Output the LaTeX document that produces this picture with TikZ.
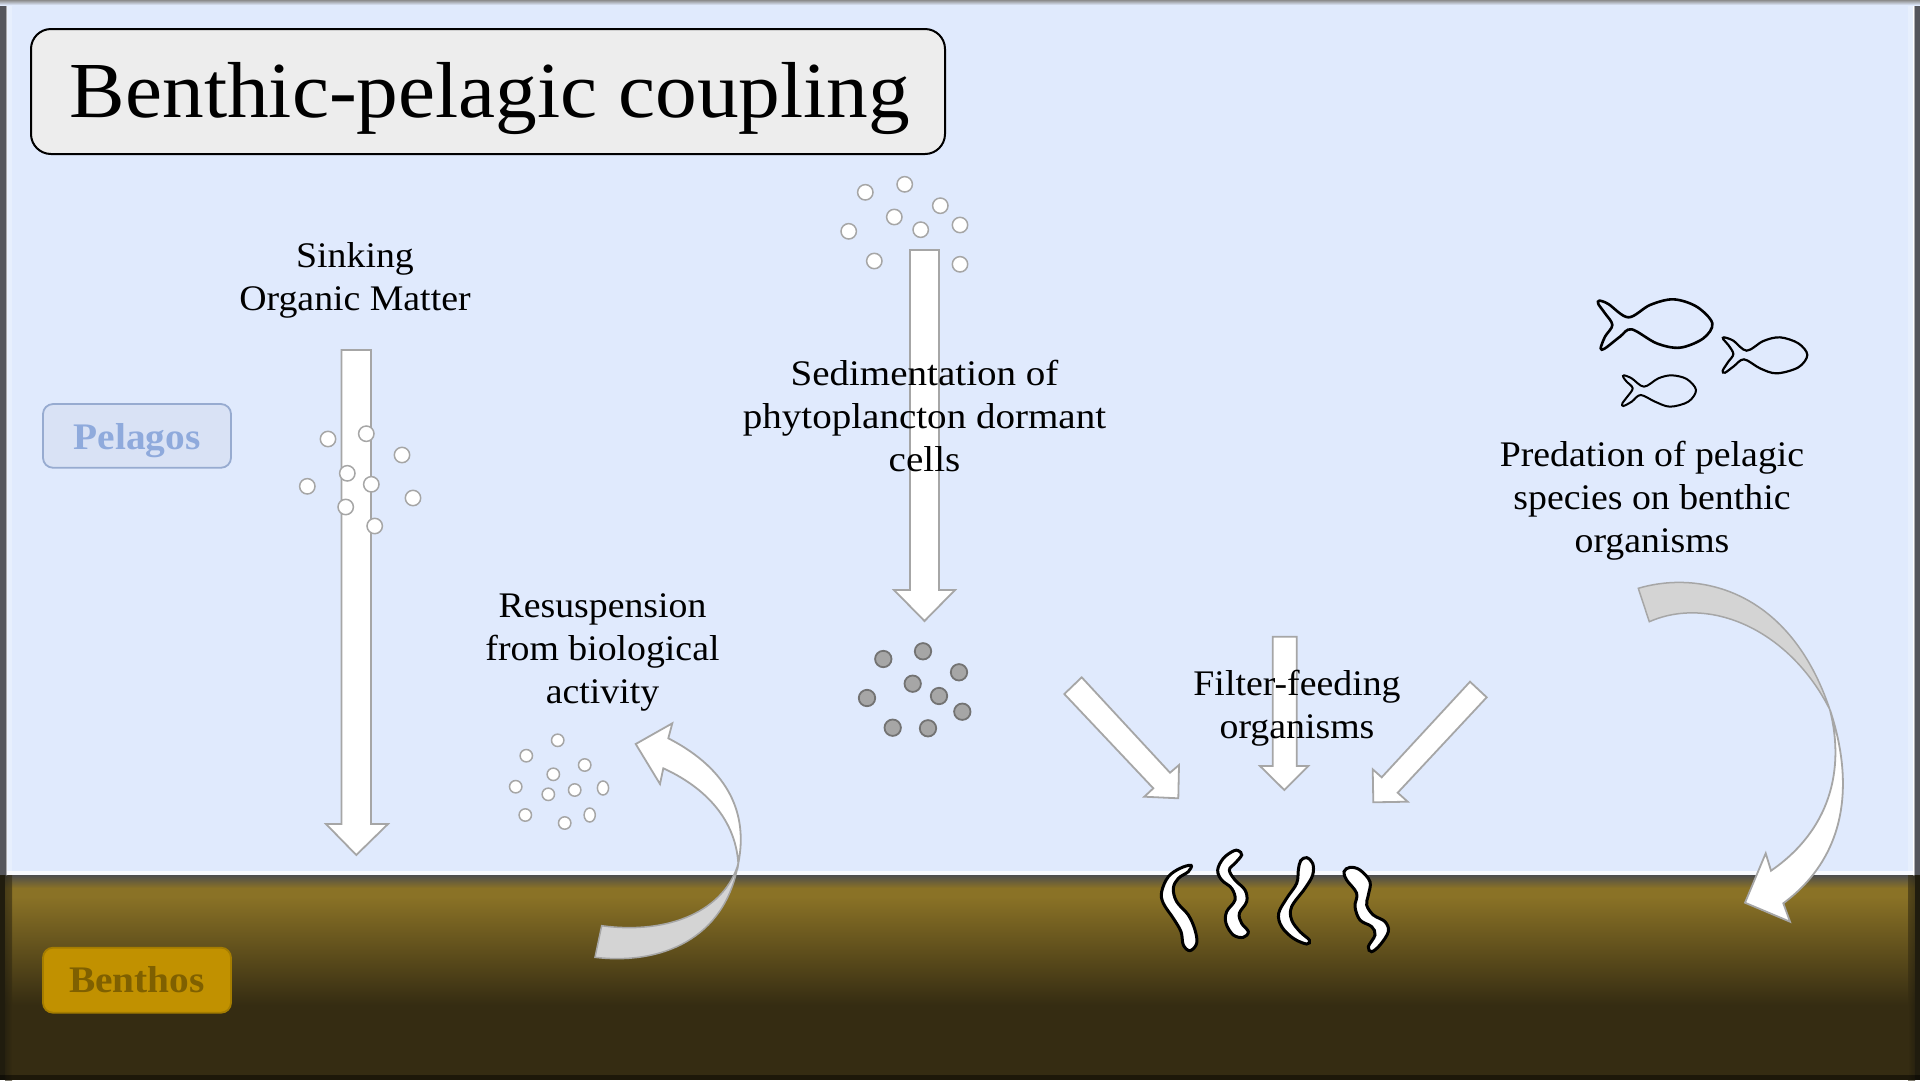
\documentclass[tikz,border=0pt]{standalone}
\usepackage{fontspec}
\setmainfont[FakeStretch=1.05]{Liberation Serif}
\newfontfamily\widefont[FakeStretch=1.085]{Liberation Serif}
\definecolor{sky}{HTML}{E0EAFD}
\definecolor{olive}{HTML}{8A7226}
\definecolor{mud}{HTML}{352C12}
\definecolor{edgegray}{HTML}{A6A6A6}
\definecolor{edgesky}{HTML}{55565C}
\definecolor{edgemud}{HTML}{201C0E}
\definecolor{pelfill}{HTML}{D9E2F5}
\definecolor{peldraw}{HTML}{97ABD0}
\definecolor{peltext}{HTML}{8FAADC}
\definecolor{benfill}{HTML}{C19100}
\definecolor{bendraw}{HTML}{A57D00}
\definecolor{bentext}{HTML}{7F6000}
\tikzset{
  label36/.style={align=center,text=black,font=\fontsize{36}{43}\selectfont,inner sep=0pt},
  zonebox/.style={line width=1.8pt,rounded corners=10pt,minimum width=188pt,inner sep=0pt,font=\fontsize{37.5}{43}\selectfont\bfseries},
  block/.style={draw=edgegray,fill=white,line width=1.8pt,line join=miter},
  curvedgray/.style={draw=edgegray,fill=black!17,line width=1.5pt,line join=miter},
  whitedot/.style={draw=edgegray,fill=white,line width=1.5pt},
  graydot/.style={draw=black!55,fill=black!35,line width=1.8pt},
  worm/.style={draw=black,fill=white,line width=3pt},
  fish/.style={draw=black,line width=2.6pt}
}
\begin{document}
\begin{tikzpicture}[x=1pt,y=-1pt]
\useasboundingbox (0,0) rectangle (1920,1080);
% background
\fill[sky] (0,0) rectangle (1920,876);
\fill[white,opacity=.75] (0,871) rectangle (1920,875);
\shade[top color=black!70,bottom color=olive] (0,875) rectangle (1920,888);
\fill[olive] (0,887.5) rectangle (1920,897);
\shade[top color=olive,bottom color=mud] (0,896.5) rectangle (1920,1005);
\fill[mud] (0,1004.5) rectangle (1920,1080);
% soft edges
\fill[edgesky] (0,0) rectangle (5,875);
\fill[edgesky] (1915,0) rectangle (1920,875);
\shade[left color=edgesky,right color=white] (5,0) rectangle (7,875);
\shade[right color=edgesky,left color=white] (1913,0) rectangle (1915,875);
\fill[white,opacity=.25] (7,0) rectangle (12,872);
\fill[white,opacity=.25] (1908,0) rectangle (1913,872);
\fill[edgemud] (0,875) rectangle (5,1080);
\fill[edgemud] (1915,875) rectangle (1920,1080);
\shade[left color=edgemud,right color=mud,opacity=.6] (5,875) rectangle (12,1080);
\shade[right color=edgemud,left color=mud,opacity=.6] (1908,875) rectangle (1915,1080);
\shade[top color=black!45,bottom color=sky] (0,0) rectangle (1920,5);
\fill[black,opacity=.45] (0,1075) rectangle (1920,1080);
% title
\node[draw=black,fill=black!7,line width=2pt,rounded corners=20pt,minimum width=914pt,inner sep=0pt,
      text height=88pt,text depth=37pt,font=\fontsize{79.4}{90}\selectfont] (title) at (488,91.5) {\hspace{4pt}Benthic-pelagic coupling};
% zone labels
\node[zonebox,draw=peldraw,fill=pelfill,text=peltext,text height=45.3pt,text depth=18.4pt] (pelagos) at (137,435.9) {Pelagos};
\node[zonebox,draw=bendraw,fill=benfill,text=bentext,text height=45pt,text depth=20pt] (benthos) at (137,980.2) {Benthos};
% straight arrows
\draw[block] (341.5,350) -- (371,350) -- (371,824) -- (388,824) -- (356.3,855) -- (326,824) -- (341.5,824) -- cycle;
\draw[block] (910,250) -- (939,250) -- (939,590) -- (955,590) -- (924.5,621) -- (894,590) -- (910,590) -- cycle;
\draw[block] (1272.7,636.7) -- (1296.7,636.7) -- (1296.7,766) -- (1308.3,766) -- (1284.3,790) -- (1260,766) -- (1272.7,766) -- cycle;
\draw[block] (1081.7,677.3) -- (1170,772.7) -- (1179,765) -- (1178.3,798.3) -- (1144.3,796.7) -- (1153.3,788.3) -- (1064.3,694) -- cycle;
\draw[block] (1470,681.7) -- (1381.7,777.3) -- (1372.7,769.3) -- (1373.3,802.3) -- (1407.7,801.7) -- (1397.7,792.7) -- (1486.7,697.3) -- cycle;
% dots
\foreach \a/\b in {328/439,366.3/433.7,402/455,347.3/473.3,371.3/484.3,307.3/486.3,345.7/507,413/498,374.7/526}
  \draw[whitedot] (\a,\b) circle[radius=7.7pt];
\foreach \a/\b in {865.3/192.3,904.7/184.3,940.3/205.7,894.3/217,920.7/229.7,960/225,848.7/231.3,874.3/261,960/264.3}
  \draw[whitedot] (\a,\b) circle[radius=7.7pt];
\foreach \a/\b in {883.3/659,923/651.3,959/672.3,912.7/683.7,939/696,867/698,962.3/711.7,892.7/727.7,928/728.3}
  \draw[graydot] (\a,\b) circle[radius=8.2pt];
\foreach \a/\b in {557.7/740.3,526.3/755.7,584.7/765,553.3/774.3,515.7/786.7,548.3/794.3,574.7/790,525.3/815,564.7/823}
  \draw[whitedot] (\a,\b) circle[radius=6.2pt];
\foreach \a/\b in {603/788,589.7/815}
  \draw[whitedot] (\a,\b) ellipse[x radius=5.6pt,y radius=7pt];
% curved arrow, resuspension
\draw[curvedgray] (595,957.3) .. controls (660,965) and (725,940) .. (738.3,863.3)
   .. controls (725,910) and (670,935) .. (601.7,925.7) -- cycle;
\draw[block] (738.3,863.3) .. controls (748,815) and (730,770) .. (668.3,738.3) -- (672.3,723.3) -- (635.7,744) -- (660,784) -- (663.3,768.3)
   .. controls (700,785) and (735,815) .. (738.3,863.3) -- cycle;
% curved arrow, predation
\draw[curvedgray] (1638.3,588.3) .. controls (1700,570) and (1790,590) .. (1830,710)
   .. controls (1790,630) and (1710,595) .. (1649.3,621.7) -- cycle;
\draw[block] (1830,710) .. controls (1850,770) and (1855,850) .. (1783.3,903.3) -- (1790,921.7) -- (1745,902.7) -- (1765.7,853.3) -- (1771,870.7)
   .. controls (1830,830) and (1845,770) .. (1830,710) -- cycle;
% worms
\begin{scope}[shift={(1120,820)},x=.33333pt,y=-.33333pt]
\draw[worm] plot[smooth cycle,tension=.6] coordinates {(213,136)(205,155)(175,175)(160,205)(170,245)(205,285)(225,330)(230,370)(210,392)(190,375)(183,335)(160,295)(130,250)(125,215)(145,170)(180,145)};
\draw[worm] plot[smooth cycle,tension=.6] coordinates {(355,92)(365,105)(345,130)(328,150)(345,180)(375,210)(380,245)(358,280)(365,310)(385,335)(370,352)(340,345)(318,310)(320,275)(345,240)(335,205)(305,180)(293,150)(310,115)(340,93)};
\draw[worm] plot[smooth cycle,tension=.6] coordinates {(560,113)(578,130)(578,165)(555,205)(515,260)(515,300)(540,335)(568,360)(560,372)(520,355)(485,320)(476,280)(500,235)(530,190)(535,150)(542,122)};
\draw[worm] plot[smooth cycle,tension=.6] coordinates {(690,142)(720,150)(750,185)(745,225)(740,255)(760,285)(795,305)(805,335)(780,375)(755,395)(745,380)(765,345)(755,320)(720,300)(705,260)(710,220)(680,180)(672,155)};
\end{scope}
% fish
\begin{scope}[shift={(1570,280)},x=.33333pt,y=-.33333pt]
\draw[fish] plot[smooth cycle,tension=.55] coordinates {(88,62)(115,72)(175,112)(240,75)(310,58)(380,80)(427,130)(400,175)(330,203)(260,190)(185,148)(150,170)(105,205)(92,205)(105,170)(127,135)(105,100)(85,72)};
\draw[fish,line width=2.2pt] plot[smooth cycle,tension=.55] coordinates {(462,172)(490,182)(530,212)(580,183)(630,172)(685,190)(712,225)(685,262)(620,280)(570,265)(522,238)(490,260)(465,278)(458,272)(475,245)(490,222)(475,195)(460,178)};
\draw[fish,line width=2pt] plot[smooth cycle,tension=.55] coordinates {(162,286)(185,295)(222,320)(265,295)(305,286)(350,297)(378,330)(355,365)(300,380)(255,365)(212,345)(185,365)(160,378)(157,370)(172,350)(188,325)(170,305)(160,292)};
\end{scope}
% labels
\node[label36] (sinking) at (355,280.5) {Sinking\\Organic Matter};
\node[label36,font=\widefont\fontsize{36}{43}\selectfont] (sediment) at (924.5,416) {Sedimentation of\\phytoplancton dormant\\cells};
\node[label36] (resusp) at (602.5,652.5) {Resuspension\\from biological\\activity};
\node[label36] (filter) at (1297,708.5) {Filter-feeding\\organisms};
\node[label36] (predation) at (1652,500.5) {Predation of pelagic\\species on benthic\\organisms};
\end{tikzpicture}
\end{document}
